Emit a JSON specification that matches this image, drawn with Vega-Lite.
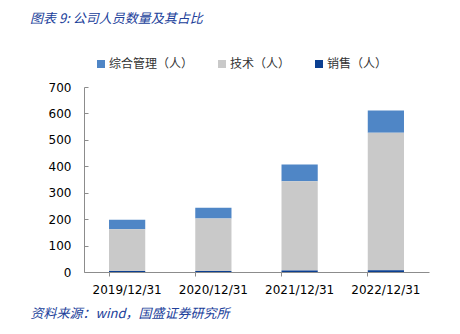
{
  "$schema": "https://vega.github.io/schema/vega-lite/v6.json",
  "width": 345,
  "height": 185,
  "autosize": {"type": "none"},
  "padding": {"left": 84, "top": 87, "right": 31, "bottom": 62},
  "background": "white",
  "title": {
    "text": "图表 9:  公司人员数量及其占比",
    "anchor": "start",
    "frame": "group",
    "orient": "top",
    "dx": -54,
    "offset": 32,
    "font": "Noto Sans CJK SC",
    "fontSize": 13,
    "fontStyle": "italic",
    "fontWeight": "normal",
    "color": "#20409A"
  },
  "data": {
    "values": [
      {"date": "2019/12/31", "type": "综合管理（人）", "rank": 3, "value": 36},
      {"date": "2019/12/31", "type": "技术（人）", "rank": 2, "value": 158},
      {"date": "2019/12/31", "type": "销售（人）", "rank": 1, "value": 4},
      {"date": "2020/12/31", "type": "综合管理（人）", "rank": 3, "value": 41},
      {"date": "2020/12/31", "type": "技术（人）", "rank": 2, "value": 198},
      {"date": "2020/12/31", "type": "销售（人）", "rank": 1, "value": 4},
      {"date": "2021/12/31", "type": "综合管理（人）", "rank": 3, "value": 64},
      {"date": "2021/12/31", "type": "技术（人）", "rank": 2, "value": 337},
      {"date": "2021/12/31", "type": "销售（人）", "rank": 1, "value": 6},
      {"date": "2022/12/31", "type": "综合管理（人）", "rank": 3, "value": 84},
      {"date": "2022/12/31", "type": "技术（人）", "rank": 2, "value": 520},
      {"date": "2022/12/31", "type": "销售（人）", "rank": 1, "value": 7}
    ]
  },
  "mark": {"type": "bar"},
  "encoding": {
    "x": {
      "field": "date",
      "type": "nominal",
      "scale": {"paddingInner": 0.58, "paddingOuter": 0.29},
      "axis": {
        "title": "资料来源：wind，国盛证券研究所",
        "titleAnchor": "start",
        "titleAlign": "left",
        "titleBaseline": "middle",
        "titleX": -54,
        "titleY": 41,
        "titleFont": "Noto Sans CJK SC",
        "titleFontSize": 13,
        "titleFontStyle": "italic",
        "titleFontWeight": "normal",
        "titleColor": "#20409A",
        "labelAngle": 0,
        "labelFont": "DejaVu Sans",
        "labelFontSize": 12,
        "labelColor": "#000000",
        "labelPadding": 8,
        "domainColor": "#8C8C8C",
        "tickColor": "#8C8C8C",
        "tickSize": 4,
        "bandPosition": 0
      }
    },
    "y": {
      "field": "value",
      "type": "quantitative",
      "stack": "zero",
      "scale": {"domain": [0, 700], "nice": false},
      "axis": {
        "title": null,
        "values": [0, 100, 200, 300, 400, 500, 600, 700],
        "grid": false,
        "labelFont": "DejaVu Sans",
        "labelFontSize": 12,
        "labelColor": "#000000",
        "labelPadding": 17,
        "domainColor": "#8C8C8C",
        "tickColor": "#8C8C8C",
        "tickSize": -4
      }
    },
    "color": {
      "field": "type",
      "type": "nominal",
      "scale": {
        "domain": ["综合管理（人）", "技术（人）", "销售（人）"],
        "range": ["#4F86C6", "#C9C9C9", "#0B3F91"]
      },
      "legend": {
        "title": null,
        "orient": "none",
        "direction": "horizontal",
        "legendX": 11,
        "legendY": -29,
        "symbolType": "square",
        "symbolSize": 64,
        "symbolStrokeWidth": 0,
        "labelFont": "Noto Sans CJK SC",
        "labelFontSize": 12,
        "labelColor": "#333333",
        "labelOffset": 2,
        "columnPadding": 22
      }
    },
    "order": {"field": "rank", "type": "quantitative"}
  },
  "config": {
    "view": {"stroke": null}
  }
}
